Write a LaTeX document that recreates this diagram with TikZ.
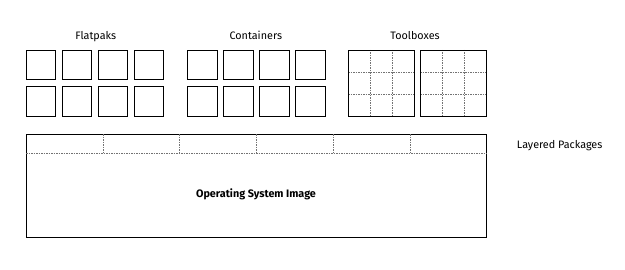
\documentclass[tikz,border=0pt]{standalone}
\usepackage{fontspec}
\setmainfont{Fira Sans}
\usetikzlibrary{calc}
\begin{document}
\begin{tikzpicture}[x=1pt,y=-1pt,
  cell/.style={draw=black,line width=1pt,minimum width=29.3pt,minimum height=29.5pt,inner sep=0pt,anchor=north west},
  tool/.style={draw=black,line width=1pt,minimum width=65.5pt,minimum height=65.7pt,inner sep=0pt,anchor=north west},
  sep/.style={draw=black!55,line width=0.5pt,dash pattern=on 1.5pt off 1pt},
  lbl/.style={font=\fontsize{10.8}{12}\selectfont,inner sep=0pt,text depth=0pt},
]
\useasboundingbox (0,0) rectangle (625,270);
% labels
\node[lbl] (lf) at (95.8,35.5) {Flatpaks};
\node[lbl] (lc) at (255.8,35.5) {Containers};
\node[lbl] (lt) at (415,35.5) {Toolboxes};
\node[lbl] (ll) at (559.7,144.5) {Layered Packages};
% flatpaks and containers
\foreach \i in {0,1,2,3}{
  \node[cell] (f1\i) at (26+36*\i,50) {};
  \node[cell] (f2\i) at (26+36*\i,86.2) {};
  \node[cell] (c1\i) at (187.3+36*\i,50) {};
  \node[cell] (c2\i) at (187.3+36*\i,86.2) {};
}
% toolboxes
\foreach \n/\x in {t1/348,t2/420}{
  \node[tool] (\n) at (\x,50) {};
  \foreach \f in {1/3,2/3}{
    \draw[sep] ($(\n.north west)!\f!(\n.north east)$) -- ($(\n.south west)!\f!(\n.south east)$);
    \draw[sep] ($(\n.north west)!\f!(\n.south west)$) -- ($(\n.north east)!\f!(\n.south east)$);
  }
  \node[tool] at (\x,50) {};
}
% OS image
\node[draw=black,line width=1pt,minimum width=460pt,minimum height=103pt,inner sep=0pt,anchor=north west] (os) at (26,134.3) {};
\coordinate (lt1) at ($(os.north west)+(0,19)$);
\coordinate (rt1) at ($(os.north east)+(0,19)$);
\draw[sep] (lt1) -- (rt1);
\foreach \k in {1,...,5}{
  \draw[sep] ($(os.north west)!\k/6!(os.north east)$) -- ($(lt1)!\k/6!(rt1)$);
}
\node[lbl,font=\fontsize{10.8}{12}\selectfont\bfseries] (osl) at (256,193) {Operating System Image};
\end{tikzpicture}
\end{document}
